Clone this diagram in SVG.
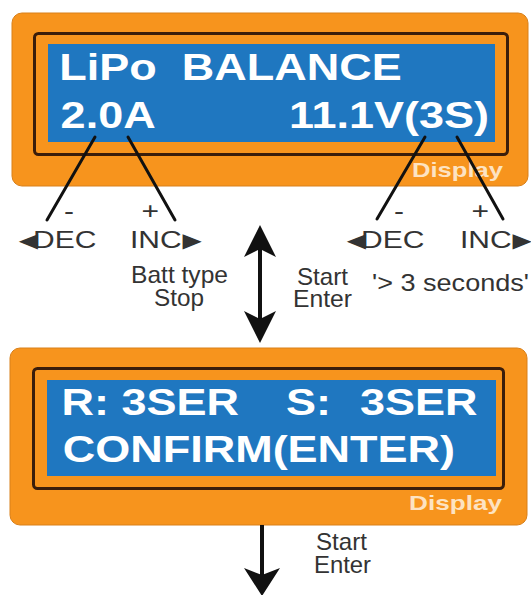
<svg xmlns="http://www.w3.org/2000/svg" width="531" height="595" viewBox="0 0 531 595">
<defs>
<style>
.case{fill:#f7941d;stroke:#d9801a;stroke-width:1}
.bezel{fill:#f7941d;stroke:#3a1d0b;stroke-width:3}
.lcd{fill:#1f77c0}
.lcdt{font-family:"Liberation Sans",Arial,sans-serif;font-weight:bold;font-size:36px;fill:#ffffff;white-space:pre}
.disp{font-family:"Liberation Sans",Arial,sans-serif;font-weight:bold;font-size:21px;fill:#fde3c2}
.lbl{font-family:"Liberation Sans",Arial,sans-serif;font-size:24px;fill:#333333}
.tri{font-family:"DejaVu Sans",sans-serif;font-size:20px}
.wire{stroke:#111111;stroke-width:3;stroke-linecap:round;fill:none}
.shaft{stroke:#111111;stroke-width:4;fill:none}
</style>
<marker id="head" viewBox="0 -16 32 32" refX="8" refY="0" markerWidth="32" markerHeight="32" markerUnits="userSpaceOnUse" orient="auto-start-reverse">
<path d="M0,-16 L32,0 L0,16 L8,0 Z" fill="#111111"/>
</marker>
<marker id="head2" viewBox="0 -18 28 36" refX="7" refY="0" markerWidth="28" markerHeight="36" markerUnits="userSpaceOnUse" orient="auto">
<path d="M0,-18 L28,0 L0,18 L7,0 Z" fill="#111111"/>
</marker>
</defs>
<rect width="531" height="595" fill="#ffffff"/>

<g id="display1">
<rect class="case" x="12" y="13" width="516" height="173" rx="10"/>
<rect class="bezel" x="34.5" y="33.5" width="473" height="121" rx="4"/>
<rect class="lcd" x="48" y="44" width="447" height="98"/>
<g transform="scale(1.25,1)">
<text class="lcdt" x="47.4" y="80" xml:space="preserve" textLength="274" lengthAdjust="spacingAndGlyphs">LiPo  BALANCE</text>
<text class="lcdt" x="48.5" y="128">2.0A</text>
<text class="lcdt" x="391.2" y="128" text-anchor="end">11.1V(3S)</text>
</g>
<text class="disp" x="412" y="177" textLength="91" lengthAdjust="spacingAndGlyphs">Display</text>
</g>

<g id="display2">
<rect class="case" x="10" y="348" width="517" height="177" rx="10"/>
<rect class="bezel" x="33.5" y="368.5" width="470" height="120" rx="4"/>
<rect class="lcd" x="47" y="380" width="449" height="96"/>
<g transform="scale(1.25,1)">
<text class="lcdt" y="415"><tspan x="49.3">R: 3SER</tspan> <tspan x="228.8">S:</tspan> <tspan x="288">3SER</tspan></text>
<text class="lcdt" x="50.2" y="462">CONFIRM(ENTER)</text>
</g>
<text class="disp" x="409" y="510" textLength="93" lengthAdjust="spacingAndGlyphs">Display</text>
</g>

<g id="connectors">
<line class="wire" x1="95" y1="137" x2="47" y2="220"/>
<line class="wire" x1="128" y1="137" x2="175" y2="220"/>
<line class="wire" x1="425" y1="137" x2="377" y2="219"/>
<line class="wire" x1="457" y1="137" x2="503" y2="219"/>
<line class="shaft" x1="260" y1="249" x2="260" y2="319" marker-start="url(#head)" marker-end="url(#head)"/>
<line class="shaft" x1="262" y1="525" x2="262" y2="575" marker-end="url(#head2)"/>
</g>

<g id="keys-left">
<g transform="scale(1.25,1)">
<text class="lbl" x="51.2" y="219">-</text>
<text class="lbl" x="113.2" y="219">+</text>
<text class="lbl" y="248"><tspan class="tri" x="15" dy="-1">◀</tspan><tspan x="26.4" dy="1">DEC</tspan></text>
<text class="lbl" y="248"><tspan x="104">INC</tspan><tspan class="tri" x="146" dy="-1">▶</tspan></text>
</g>
</g>

<g id="keys-right">
<g transform="scale(1.25,1)">
<text class="lbl" x="315.2" y="219">-</text>
<text class="lbl" x="377.2" y="219">+</text>
<text class="lbl" y="248"><tspan class="tri" x="277.4" dy="-1">◀</tspan><tspan x="288.8" dy="1">DEC</tspan></text>
<text class="lbl" y="248"><tspan x="368">INC</tspan><tspan class="tri" x="410" dy="-1">▶</tspan></text>
</g>
</g>

<g id="labels">
<text class="lbl" x="131" y="283" textLength="97" lengthAdjust="spacingAndGlyphs">Batt type</text>
<text class="lbl" x="154" y="306" textLength="50" lengthAdjust="spacingAndGlyphs">Stop</text>
<text class="lbl" x="297" y="285" font-size="23" textLength="51" lengthAdjust="spacingAndGlyphs">Start</text>
<text class="lbl" x="293" y="307" font-size="23" textLength="59" lengthAdjust="spacingAndGlyphs">Enter</text>
<text class="lbl" x="372" y="291" textLength="157" lengthAdjust="spacingAndGlyphs">'&gt; 3 seconds'</text>
<text class="lbl" x="316" y="550" font-size="22" textLength="51" lengthAdjust="spacingAndGlyphs">Start</text>
<text class="lbl" x="314" y="573" font-size="22" textLength="57" lengthAdjust="spacingAndGlyphs">Enter</text>
</g>
</svg>
